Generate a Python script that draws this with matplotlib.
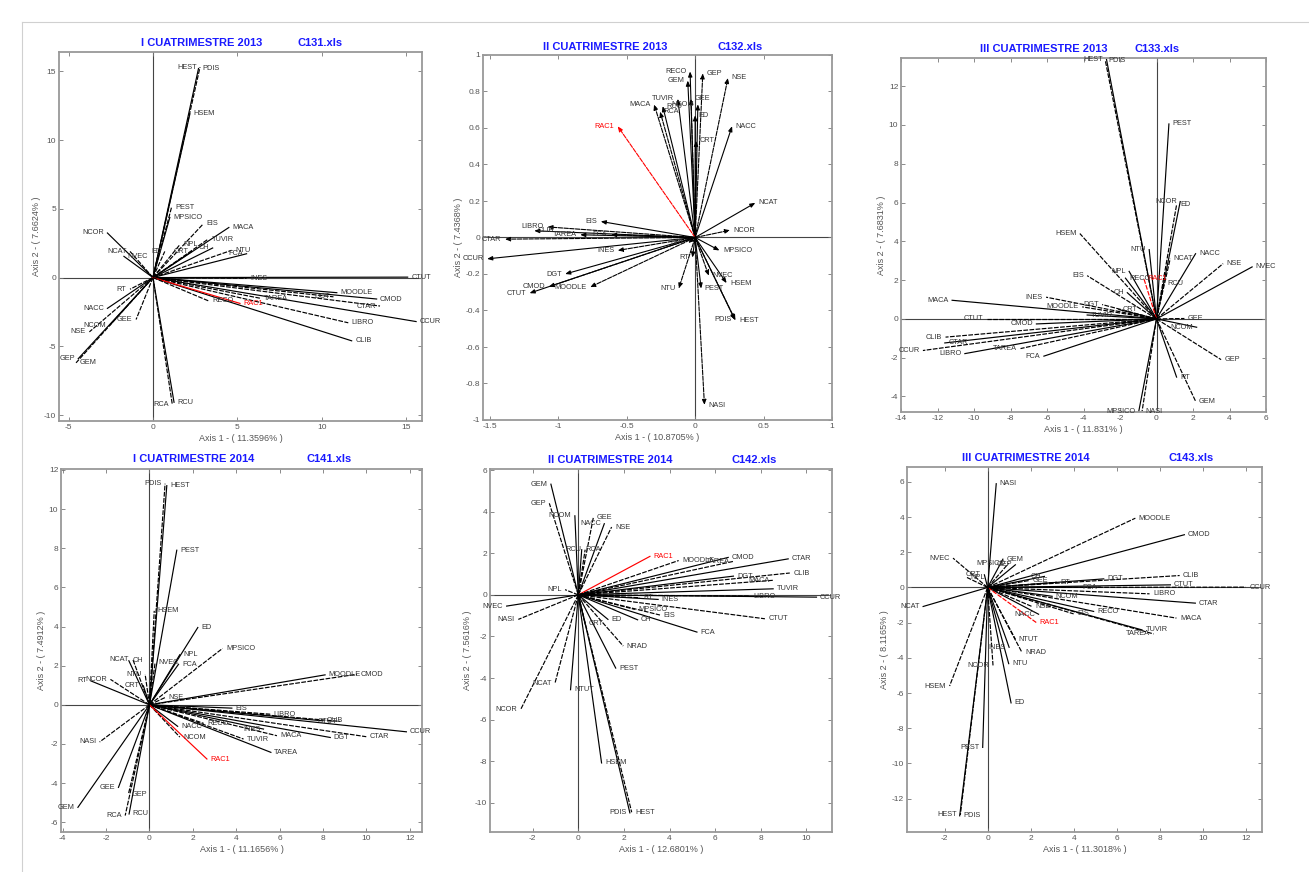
import matplotlib
matplotlib.use('Agg')
import matplotlib.pyplot as plt
from matplotlib.ticker import MultipleLocator, FuncFormatter

plt.rcParams['font.family'] = ['Liberation Sans', 'DejaVu Sans']

# ---- data: axis 1 / axis 2 loadings ----

# I CUATRIMESTRE 2013  (C131.xls)
names1 = ['PDIS', 'HEST', 'HSEM', 'PEST', 'MPSICO', 'EIS', 'MACA', 'TUVIR', 'CH', 'NTU',
          'FCA', 'NPL', 'CRT', 'ED', 'NCOR', 'NCAT', 'NVEC', 'RT', 'NACC', 'NSE',
          'NCOM', 'GEE', 'GEP', 'GEM', 'RCU', 'RCA', 'CTUT', 'INES', 'MOODLE', 'DGT',
          'CMOD', 'CTAR', 'CCUR', 'LIBRO', 'CLIB', 'TAREA', 'RAC1', 'RECO']
ax1_1 = [2.7, 2.79, 2.19, 1.1, 1.0, 2.98, 4.5, 3.28, 3.54, 4.66,
         5.55, 1.6, 2.3, 0.7, -2.7, -1.36, -1.72, -1.36, -2.7, -3.77,
         -2.55, -1.0, -4.43, -4.56, 1.25, 1.15, 15.1, 5.55, 10.9, 10.7,
         13.26, 13.46, 15.6, 11.58, 11.78, 6.34, 5.16, 3.3]
ax2_1 = [15.2, 15.3, 11.9, 5.1, 4.37, 3.9, 3.64, 2.8, 2.15, 1.98,
         1.73, 2.4, 1.9, 1.9, 3.24, 1.9, 1.54, -0.85, -2.24, -3.95,
         -3.46, -3.05, -5.9, -6.2, -9.07, -9.25, 0.03, -0.05, -1.1, -1.4,
         -1.56, -2.07, -3.2, -3.29, -4.6, -1.5, -1.88, -1.7]

# II CUATRIMESTRE 2013  (C132.xls)
names2 = ['RECO', 'GEP', 'GEM', 'NSE', 'TUVIR', 'GEE', 'NCOM', 'MACA', 'RCU', 'RCA',
          'ED', 'CRT', 'NACC', 'RAC1', 'NCAT', 'NCOR', 'EIS', 'LIBRO', 'CLIB', 'FCA',
          'TAREA', 'CTAR', 'CCUR', 'INES', 'DGT', 'CMOD', 'CTUT', 'MOODLE', 'MPSICO', 'NPL',
          'RT', 'NTU', 'PEST', 'NVEC', 'HSEM', 'HEST', 'PDIS', 'NASI']
ax1_2 = [-0.037, 0.056, -0.054, 0.24, -0.127, -0.03, 0.02, -0.3, -0.237, -0.256,
         0.0, 0.007, 0.27, -0.566, 0.44, 0.256, -0.69, -1.08, -1.176, -0.615,
         -0.84, -1.39, -1.52, -0.566, -0.95, -1.07, -1.21, -0.768, 0.178, -0.05,
         -0.02, -0.12, 0.044, 0.1, 0.23, 0.295, 0.29, 0.068]
ax2_2 = [0.91, 0.90, 0.86, 0.875, 0.76, 0.76, 0.73, 0.73, 0.72, 0.69,
         0.67, 0.53, 0.61, 0.61, 0.19, 0.04, 0.088, 0.058, 0.037, 0.015,
         0.015, -0.009, -0.117, -0.071, -0.2, -0.27, -0.305, -0.272, -0.071, -0.03,
         -0.11, -0.28, -0.28, -0.21, -0.25, -0.455, -0.45, -0.918]

# III CUATRIMESTRE 2013  (C133.xls)
names3 = ['HEST', 'PDIS', 'PEST', 'ED', 'NCOR', 'HSEM', 'NTU', 'NCAT', 'NACC', 'NSE',
          'NVEC', 'RCU', 'NPL', 'RAC1', 'RECO', 'EIS', 'CH', 'INES', 'MACA', 'DGT',
          'CRT', 'MOODLE', 'TUVIR', 'CTUT', 'CMOD', 'CLIB', 'CTAR', 'CCUR', 'LIBRO', 'TAREA',
          'FCA', 'GEE', 'NCOM', 'GEP', 'RT', 'GEM', 'MPSICO', 'NASI']
ax1_3 = [-2.74, -2.8, 0.68, 1.1, 1.3, -4.2, -0.4, 0.75, 2.14, 3.65,
         5.24, 0.4, -1.5, -0.7, -1.7, -3.8, -1.6, -6.05, -11.2, -2.98,
         -2.06, -4.07, -3.8, -9.3, -6.58, -11.56, -11.6, -12.8, -10.5, -7.45,
         -6.17, 1.53, 2.2, 3.54, 1.1, 2.14, -0.97, -0.79]
ax2_3 = [13.38, 13.3, 10.05, 5.88, 6.05, 4.4, 3.57, 3.1, 3.36, 2.85,
         2.68, 1.8, 2.45, 2.1, 2.1, 2.23, 1.35, 1.12, 0.96, 0.74,
         0.48, 0.62, 0.2, 0.0, -0.26, -0.94, -1.24, -1.63, -1.79, -1.53,
         -1.92, 0.02, -0.43, -2.1, -3.0, -4.24, -4.76, -4.76]

# I CUATRIMESTRE 2014  (C141.xls)
names4 = ['HEST', 'PDIS', 'PEST', 'HSEM', 'ED', 'MPSICO', 'NPL', 'NCAT', 'CH', 'NVEC',
          'FCA', 'NTU', 'RT', 'NCOR', 'CRT', 'NSE', 'MOODLE', 'CMOD', 'EIS', 'LIBRO',
          'CLIB', 'CTUT', 'CCUR', 'CTAR', 'DGT', 'MACA', 'INES', 'TUVIR', 'TAREA', 'RECO',
          'NACC', 'NCOM', 'RAC1', 'NASI', 'GEE', 'GEP', 'GEM', 'RCA', 'RCU']
ax1_4 = [0.8, 0.72, 1.26, 0.22, 2.23, 3.37, 1.4, -0.77, -0.95, 0.26,
         1.34, -0.2, -2.7, -1.8, -0.28, 0.72, 8.1, 9.57, 3.8, 5.57,
         8.0, 8.8, 11.85, 10.0, 8.34, 5.88, 5.26, 4.34, 5.6, 2.5,
         1.3, 1.4, 2.65, -2.3, -1.43, -0.97, -3.3, -1.12, -0.94]
ax2_4 = [11.2, 11.3, 7.9, 4.8, 3.95, 2.88, 2.56, 2.33, 2.25, 2.16,
         2.07, 1.56, 1.22, 1.3, 0.97, 0.37, 1.53, 1.56, -0.17, -0.48,
         -0.82, -0.85, -1.38, -1.63, -1.67, -1.58, -1.24, -1.75, -2.43, -0.95,
         -1.1, -1.65, -2.77, -1.9, -4.22, -4.56, -5.24, -5.66, -5.58]

# II CUATRIMESTRE 2014  (C142.xls)
names5 = ['GEM', 'GEP', 'NCOM', 'GEE', 'NACC', 'NSE', 'RCA', 'RCU', 'RAC1', 'MOODLE',
          'CMOD', 'TAREA', 'CTAR', 'CLIB', 'DGT', 'MACA', 'TUVIR', 'LIBRO', 'CCUR', 'CTUT',
          'FCA', 'EIS', 'CH', 'MPSICO', 'INES', 'RT', 'ED', 'NRAD', 'CRT', 'NPL',
          'NVEC', 'NASI', 'PEST', 'NCAT', 'NTUT', 'NCOR', 'HSEM', 'HEST', 'PDIS']
ax1_5 = [-1.2, -1.27, -0.15, 0.66, 1.14, 1.46, 0.15, 0.3, 3.14, 4.4,
         6.57, 6.8, 9.2, 9.27, 6.8, 8.54, 8.54, 7.5, 10.44, 8.18,
         5.2, 3.58, 2.6, 2.48, 3.5, 2.7, 1.3, 1.97, 0.3, -0.58,
         -3.14, -2.63, 1.64, -1.02, -0.34, -2.53, 1.02, 2.34, 2.26]
ax2_5 = [5.32, 4.4, 3.8, 3.72, 3.42, 3.26, 2.17, 2.17, 1.85, 1.65,
         1.8, 1.61, 1.73, 1.05, 0.9, 0.7, 0.29, -0.06, -0.11, -1.15,
         -1.79, -0.97, -1.2, -0.7, -0.22, -0.14, -1.18, -2.46, -1.4, 0.25,
         -0.54, -1.18, -3.52, -4.24, -4.56, -5.52, -8.08, -10.45, -10.48]

# III CUATRIMESTRE 2014  (C143.xls)
names6 = ['NASI', 'MOODLE', 'CMOD', 'NVEC', 'GEM', 'MPSICO', 'GEP', 'GEE', 'CRT', 'NPL',
          'CH', 'RT', 'DGT', 'CLIB', 'CTUT', 'CCUR', 'FCA', 'LIBRO', 'CTAR', 'MACA',
          'TUVIR', 'TAREA', 'RECO', 'EIS', 'NCOM', 'NSE', 'NACC', 'RAC1', 'NCAT', 'NTUT',
          'INES', 'NRAD', 'NTU', 'NCOR', 'ED', 'HSEM', 'PEST', 'HEST', 'PDIS']
ax1_6 = [0.4, 6.87, 9.15, -1.61, 0.71, 0.98, 1.29, 1.95, -0.15, -0.96,
         2.64, 3.22, 5.4, 8.93, 8.5, 12.0, 5.24, 7.53, 9.66, 8.78,
         7.18, 7.72, 4.93, 4.0, 3.0, 2.06, 2.37, 2.26, -3.0, 1.29,
         1.0, 1.6, 0.98, 0.25, 1.09, -1.77, -0.23, -1.27, -1.3]
ax2_6 = [5.9, 3.94, 3.0, 1.67, 1.61, 1.38, 1.29, 0.4, 0.72, 0.57,
         0.63, 0.3, 0.49, 0.68, 0.15, 0.02, 0.02, -0.36, -0.89, -1.74,
         -2.41, -2.64, -1.36, -1.5, -0.5, -1.08, -1.52, -1.99, -1.08, -2.94,
         -3.4, -3.7, -4.33, -4.43, -6.56, -5.6, -9.09, -12.93, -12.98]

titles = ['I CUATRIMESTRE 2013', 'II CUATRIMESTRE 2013', 'III CUATRIMESTRE 2013',
          'I CUATRIMESTRE 2014', 'II CUATRIMESTRE 2014', 'III CUATRIMESTRE 2014']
files = ['C131.xls', 'C132.xls', 'C133.xls', 'C141.xls', 'C142.xls', 'C143.xls']
pct1 = ['11.3596', '10.8705', '11.831', '11.1656', '12.6801', '11.3018']
pct2 = ['7.6624', '7.4368', '7.6831', '7.4912', '7.5616', '8.1165']

# ---- layout (pixels of a 1309x872 canvas) ----
W, H = 1309.0, 872.0
boxes = [(59, 52, 422, 421), (483, 55, 832, 420), (901, 58, 1266, 412),
         (61, 469, 422, 832), (490, 469, 832, 832), (907, 467, 1262, 832)]
xlims = [(-5.57, 15.95), (-1.55, 1.0), (-14, 6), (-4.08, 12.57), (-3.87, 11.12), (-3.75, 12.76)]
ylims = [(-10.43, 16.4), (-1, 1), (-4.8, 13.45), (-6.5, 12.05), (-11.4, 6.05), (-13.9, 6.85)]
xsteps = [5, 0.5, 2, 2, 2, 2]
ysteps = [5, 0.2, 2, 2, 2, 2]
title_pos = [(202, 320, 43), (605, 740, 47), (1044, 1157, 49),
             (194, 329, 459), (610, 754, 460), (1026, 1191, 458)]
with_heads = [False, True, False, False, False, False]

panels = [(names1, ax1_1, ax2_1), (names2, ax1_2, ax2_2), (names3, ax1_3, ax2_3),
          (names4, ax1_4, ax2_4), (names5, ax1_5, ax2_5), (names6, ax1_6, ax2_6)]

fmt = FuncFormatter(lambda v, p: ('%g' % round(v, 6)) if abs(v) > 1e-9 else '0')

fig = plt.figure(figsize=(W / 100, H / 100), dpi=100)
fig.patch.set_facecolor('white')

# faint page frame
fig.add_artist(plt.Line2D([22 / W, 22 / W], [0, 1 - 22 / H], color='#d0d0d0', lw=0.8))
fig.add_artist(plt.Line2D([22 / W, 1], [1 - 22 / H, 1 - 22 / H], color='#d0d0d0', lw=0.8))

for k, (names, a1, a2) in enumerate(panels):
    x0, y0, x1, y1 = boxes[k]
    ax = fig.add_axes([x0 / W, 1 - y1 / H, (x1 - x0) / W, (y1 - y0) / H])
    ax.axhline(0, color='#444444', lw=0.8, zorder=1)
    ax.axvline(0, color='#444444', lw=0.8, zorder=1)

    xr = xlims[k][1] - xlims[k][0]
    yr = ylims[k][1] - ylims[k][0]
    placed = []
    for i, (n, x, y) in enumerate(zip(names, a1, a2)):
        col = 'red' if n == 'RAC1' else 'black'
        ls = '-' if i % 2 == 0 else (0, (4, 1.2))
        if with_heads[k]:
            ax.annotate('', xy=(x, y), xytext=(0, 0),
                        arrowprops=dict(arrowstyle='-|>,head_length=0.3,head_width=0.12',
                                        color=col, lw=0.8, linestyle=ls,
                                        shrinkA=0, shrinkB=0), zorder=2)
        else:
            ax.plot([0, x], [0, y], color=col, lw=0.85, ls=ls, zorder=2)

        # labels sit beside the tip; flip side when a neighbour already took it
        side = 1 if x >= 0 else -1
        for (px, py, ps) in placed:
            if abs(px - x) < 0.05 * xr and abs(py - y) < 0.025 * yr and ps == side:
                side = -side
                break
        placed.append((x, y, side))
        ax.annotate(n, (x, y), xytext=(2.5 * side, 0),
                    textcoords='offset points', ha='left' if side > 0 else 'right',
                    va='center', fontsize=5.3,
                    color='red' if n == 'RAC1' else '#333333', zorder=3)

    ax.set_xlim(*xlims[k])
    ax.set_ylim(*ylims[k])
    ax.xaxis.set_major_locator(MultipleLocator(xsteps[k]))
    ax.yaxis.set_major_locator(MultipleLocator(ysteps[k]))
    ax.xaxis.set_major_formatter(fmt)
    ax.yaxis.set_major_formatter(fmt)
    ax.tick_params(direction='in', top=True, right=True, length=3, width=0.6,
                   labelsize=6, colors='#777777', labelcolor='#555555', pad=2)
    for s in ax.spines.values():
        s.set_color('#999999')
        s.set_linewidth(1.3)
    ax.set_xlabel('Axis 1 - ( %s%% )' % pct1[k], fontsize=6.5, color='#555555', labelpad=2)
    ax.set_ylabel('Axis 2 - ( %s%% )' % pct2[k], fontsize=6.5, color='#555555', labelpad=2)

    tx1, tx2, ty = title_pos[k]
    fig.text(tx1 / W, 1 - ty / H, titles[k], ha='center', va='center',
             fontsize=8, fontweight='bold', color='#1a1aff')
    fig.text(tx2 / W, 1 - ty / H, files[k], ha='center', va='center',
             fontsize=8, fontweight='bold', color='#1a1aff')

fig.savefig('out.png', dpi=100)
